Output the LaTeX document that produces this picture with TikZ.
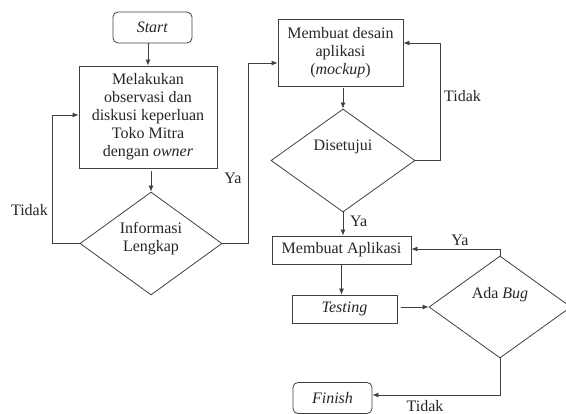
\documentclass[tikz,border=0pt]{standalone}
\usepackage{fontspec}
\setmainfont{Liberation Serif}
\usetikzlibrary{shapes.geometric,arrows.meta}
\begin{document}
\begin{tikzpicture}[x=1pt,y=-1pt,
  line/.style={draw=black!75, line width=0.8pt},
  arr/.style={line, -{Latex[length=6pt,width=5pt]}},
  txt/.style={font=\fontsize{16}{18}\selectfont, text=black!85},
  procbox/.style={line, txt, rectangle, inner sep=0pt, align=center},
  term/.style={procbox, rounded corners=5pt},
  decis/.style={line, diamond, inner sep=0pt},
  lbl/.style={txt, inner sep=0pt, align=center}
]
\useasboundingbox (0,0) rectangle (566,414);

% nodes
\node[term, minimum width=79pt, minimum height=31pt] (start) at (152.5,27.5) {\textit{Start}};
\node[procbox, minimum width=138pt, minimum height=102pt] (obs) at (148,117)
  {Melakukan\\observasi dan\\diskusi keperluan\\Toko Mitra\\dengan \textit{owner}};
\node[decis, minimum width=142pt, minimum height=103pt] (d1) at (151,243.5) {};
\node[lbl] (d1t) at (151,239) {Informasi\\Lengkap};

\node[procbox, minimum width=125pt, minimum height=67pt] (desain) at (340.5,52.5)
  {Membuat desain\\aplikasi\\(\textit{mockup})};
\node[decis, minimum width=144pt, minimum height=103pt] (d2) at (343,160.5) {};
\node[lbl] (d2t) at (343,147) {Disetujui};

\node[procbox, minimum width=139pt, minimum height=28pt] (apl) at (341.5,250) {Membuat Aplikasi};
\node[procbox, minimum width=105pt, minimum height=28pt] (test) at (344.5,309) {\textit{Testing}};
\node[decis, minimum width=142pt, minimum height=102pt] (d3) at (500,307) {};
\node[lbl] (d3t) at (500,295) {Ada \textit{Bug}};
\node[term, minimum width=79pt, minimum height=31pt] (finish) at (332.5,398) {\textit{Finish}};

% coordinates for bends
\coordinate (c1) at (52,115);
\coordinate (c2) at (248,63);
\coordinate (c3) at (440,43);
\coordinate (c4) at (500,249);
\coordinate (c5) at (500,395);

% connectors
\draw[arr] (obs.north |- start.south) -- (obs.north);
\draw[arr, shorten <=3pt] (d1.north |- obs.south) -- (d1.north);
\draw[arr] (d1.west) -| (c1) -- (c1 -| obs.west);
\node[lbl, anchor=east] (t1) at (48,210) {Tidak};
\draw[arr] (d1.east) -| (c2) -- (c2 -| desain.west);
\node[lbl] (y1) at (233,178) {Ya};

\draw[arr, shorten <=2pt] (d2.north |- desain.south) -- (d2.north);
\draw[arr] (d2.east) -| (c3) -- (c3 -| desain.east);
\node[lbl, anchor=west] (t2) at (444,96) {Tidak};
\draw[arr] (d2.south) -- (d2.south |- apl.north);
\node[lbl, anchor=west] (y2) at (350,221) {Ya};

\draw[arr] (apl.south) -- (apl.south |- test.north);
\draw[arr, shorten <=4pt] (test.east |- d3.west) -- (d3.west);
\draw[arr] (d3.north) -- (c4) -- (c4 -| apl.east);
\node[lbl] (y3) at (460,240) {Ya};
\draw[arr] (d3.south) -- (c5) -- (c5 -| finish.east);
\node[lbl] (t3) at (425,406) {Tidak};
\end{tikzpicture}
\end{document}
